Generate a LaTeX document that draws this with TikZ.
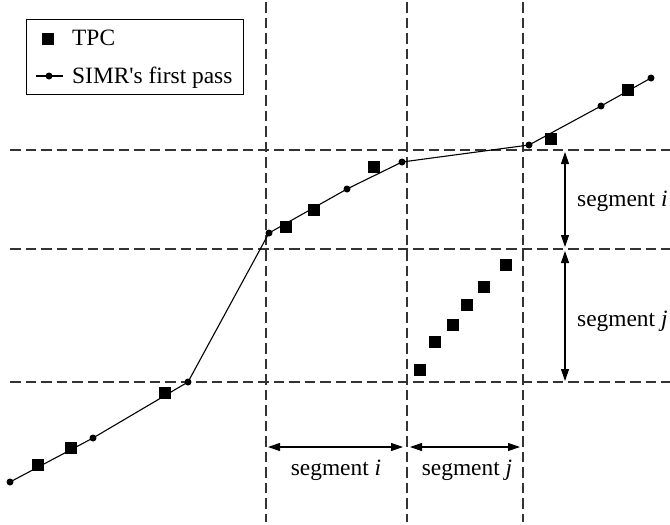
\documentclass[tikz,border=0pt]{standalone}
\usepackage{fontspec}
\setmainfont{Liberation Serif}
\usetikzlibrary{arrows.meta}
\begin{document}
\begin{tikzpicture}[x=1pt,y=-1pt,
  pass/.style={circle,fill=black,inner sep=0pt,minimum size=7pt},
  tpc/.style={rectangle,fill=black,inner sep=0pt,minimum size=12pt},
  guide/.style={dash pattern=on 10.5pt off 5pt,line width=1.2pt,draw=black!80},
  curve/.style={line width=1.1pt},
  span/.style={line width=1.1pt,{Triangle[length=12pt,width=8pt]}-{Triangle[length=12pt,width=8pt]}},
  lbl/.style={font=\fontsize{23.4}{28}\selectfont,inner sep=0pt}]
\useasboundingbox (0,0) rectangle (670,525);

% segment boundaries
\coordinate (v1t) at (266,2);   \coordinate (v1b) at (266,522);
\coordinate (v2t) at (407,2);   \coordinate (v2b) at (407,522);
\coordinate (v3t) at (523,2);   \coordinate (v3b) at (523,522);
\coordinate (h1l) at (10,150);  \coordinate (h1r) at (670,150);
\coordinate (h2l) at (10,249);  \coordinate (h2r) at (670,249);
\coordinate (h3l) at (10,382);  \coordinate (h3r) at (670,382);
\foreach \a/\b in {v1t/v1b,v2t/v2b,v3t/v3b,h1l/h1r,h2l/h2r,h3l/h3r}
  \draw[guide] (\a) -- (\b);

% SIMR's first pass
\node[pass] (p1) at (10,482) {};
\node[pass] (p2) at (93,438) {};
\node[pass] (p3) at (188,382) {};
\node[pass] (p4) at (269,233) {};
\node[pass] (p5) at (347,189) {};
\node[pass] (p6) at (402,162) {};
\node[pass] (p7) at (529,145) {};
\node[pass] (p8) at (601,106) {};
\node[pass] (p9) at (651,78) {};
\draw[curve] (p1.center) -- (p2.center) -- (p3.center) -- (p4.center) -- (p5.center)
  -- (p6.center) -- (p7.center) -- (p8.center) -- (p9.center);

% TPC points
\node[tpc] (t1) at (38,465) {};
\node[tpc] (t2) at (71,448) {};
\node[tpc] (t3) at (165,393) {};
\node[tpc] (t4) at (286,227) {};
\node[tpc] (t5) at (314,210) {};
\node[tpc] (t6) at (374,167) {};
\node[tpc] (t7) at (551,139) {};
\node[tpc] (t8) at (628,90) {};
\node[tpc] (t9) at (420,370) {};
\node[tpc] (t10) at (435,342) {};
\node[tpc] (t11) at (453,325) {};
\node[tpc] (t12) at (467,305) {};
\node[tpc] (t13) at (484,287) {};
\node[tpc] (t14) at (506,265) {};

% segment extents
\coordinate (ha1) at (268,447); \coordinate (ha2) at (403,447);
\coordinate (hb1) at (410,447); \coordinate (hb2) at (520,447);
\coordinate (va1) at (565,152); \coordinate (va2) at (565,247);
\coordinate (vb1) at (565,251); \coordinate (vb2) at (565,381);
\draw[span] (ha1) -- (ha2);
\draw[span] (hb1) -- (hb2);
\draw[span] (va1) -- (va2);
\draw[span] (vb1) -- (vb2);
\node[lbl,anchor=base] (si) at (336,475) {segment \textit{i}};
\node[lbl,anchor=base] (sj) at (467,475) {segment \textit{j}};
\node[lbl,anchor=base west] (ri) at (577,206) {segment \textit{i}};
\node[lbl,anchor=base west] (rj) at (577,326) {segment \textit{j}};

% legend
\node[draw,line width=1pt,minimum width=217pt,minimum height=75pt,anchor=north west,inner sep=0pt] (leg) at (26,19) {};
\node[tpc] (lt) at (48,39) {};
\node[lbl,anchor=base west] (ltx) at (72,45) {TPC};
\coordinate (la) at (36,76); \coordinate (lb) at (63,76);
\draw[curve] (la) -- (lb);
\node[pass] (lp) at (49,76) {};
\node[lbl,anchor=base west] (lpx) at (72,83) {SIMR\textquotesingle s first pass};
\end{tikzpicture}
\end{document}
